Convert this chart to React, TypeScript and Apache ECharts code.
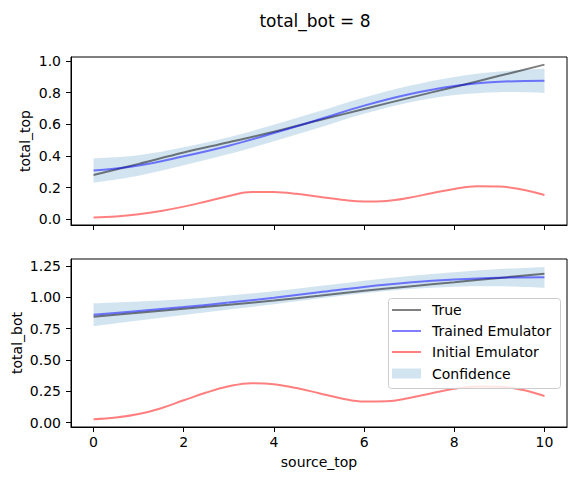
import React, { useEffect, useRef } from "react";
import * as echarts from "echarts";

// ---- data ----
const xCoarse = [0, 1, 2, 3, 4, 5, 6, 7, 8, 9, 10];
const xFine = [0, 0.5, 1, 1.5, 2, 2.5, 3, 3.5, 4, 4.5, 5, 5.5, 6, 6.5, 7, 7.5, 8, 8.5, 9, 9.5, 10];

const topTrue = [0.28, 0.35, 0.422, 0.487, 0.553, 0.625, 0.697, 0.767, 0.836, 0.906, 0.977];
const topTrained = [0.308, 0.34, 0.398, 0.465, 0.545, 0.63, 0.718, 0.79, 0.842, 0.868, 0.875];
const topUpper = [0.385, 0.405, 0.455, 0.518, 0.597, 0.682, 0.77, 0.843, 0.899, 0.933, 0.952];
const topLower = [0.231, 0.275, 0.341, 0.412, 0.493, 0.578, 0.666, 0.737, 0.785, 0.803, 0.798];
const topInitial = [0.012, 0.018, 0.032, 0.053, 0.08, 0.113, 0.147, 0.173, 0.172, 0.161, 0.142, 0.124, 0.112, 0.116, 0.136, 0.165, 0.192, 0.208, 0.207, 0.188, 0.154];

const botTrue = [0.845, 0.877, 0.909, 0.941, 0.975, 1.012, 1.052, 1.087, 1.12, 1.155, 1.189];
const botTrained = [0.861, 0.891, 0.922, 0.958, 0.997, 1.04, 1.083, 1.118, 1.143, 1.157, 1.16];
const botUpper = [0.951, 0.966, 0.985, 1.014, 1.049, 1.09, 1.133, 1.17, 1.201, 1.226, 1.243];
const botLower = [0.771, 0.816, 0.859, 0.902, 0.945, 0.99, 1.033, 1.066, 1.085, 1.088, 1.077];
const botInitial = [0.026, 0.04, 0.068, 0.115, 0.178, 0.24, 0.29, 0.315, 0.307, 0.276, 0.235, 0.193, 0.168, 0.17, 0.197, 0.235, 0.27, 0.289, 0.287, 0.262, 0.213];

const xTicks = [0, 2, 4, 6, 8, 10];
const topYTicks = [0, 0.2, 0.4, 0.6, 0.8, 1.0];
const botYTicks = [0, 0.25, 0.5, 0.75, 1.0, 1.25];

const legendNames = ["True", "Trained Emulator", "Initial Emulator", "Confidence"];

const FONT = "DejaVu Sans";
const C_TRUE = "rgba(0,0,0,0.5)";
const C_TRAINED = "rgba(0,0,255,0.5)";
const C_INITIAL = "rgba(255,0,0,0.5)";
const C_BAND = "rgba(31,119,180,0.2)";

const pairs = (xs: number[], ys: number[]) => xs.map((x, i) => [x, ys[i]]);

// cubic (Catmull-Rom style) segments through pixel points, without the initial move
function curveSegments(pts: number[][]): string {
  let d = "";
  const n = pts.length;
  for (let i = 0; i < n - 1; i++) {
    const p0 = pts[i - 1] || pts[i];
    const p1 = pts[i];
    const p2 = pts[i + 1];
    const p3 = pts[i + 2] || pts[i + 1];
    const c1x = p1[0] + (p2[0] - p0[0]) / 6;
    const c1y = p1[1] + (p2[1] - p0[1]) / 6;
    const c2x = p2[0] - (p3[0] - p1[0]) / 6;
    const c2y = p2[1] - (p3[1] - p1[1]) / 6;
    d += ` C${c1x},${c1y} ${c2x},${c2y} ${p2[0]},${p2[1]}`;
  }
  return d;
}

export default function App() {
  const ref = useRef<HTMLDivElement>(null);
  useEffect(() => {
    if (!ref.current) return;
    const chart = echarts.init(ref.current, undefined, { renderer: "svg" });

    const xAxisBase = (gridIndex: number, showLabels: boolean) => ({
      type: "value",
      gridIndex,
      min: -0.5,
      max: 10.5,
      splitLine: { show: false },
      axisLine: { show: true, onZero: false, lineStyle: { color: "#000", width: 1 } },
      axisTick: { show: true, length: 5, customValues: xTicks, lineStyle: { color: "#000", width: 1 } },
      axisLabel: {
        show: showLabels,
        customValues: xTicks,
        margin: 8,
        fontFamily: FONT,
        fontSize: 14,
        color: "#000",
        formatter: (v: number) => String(v),
      },
    });
    const yAxisBase = (gridIndex: number, min: number, max: number, ticks: number[], dec: number) => ({
      type: "value",
      gridIndex,
      min,
      max,
      splitLine: { show: false },
      axisLine: { show: true, onZero: false, lineStyle: { color: "#000", width: 1 } },
      axisTick: { show: true, length: 5, customValues: ticks, lineStyle: { color: "#000", width: 1 } },
      axisLabel: {
        customValues: ticks,
        margin: 10,
        fontFamily: FONT,
        fontSize: 14,
        color: "#000",
        formatter: (v: number) => v.toFixed(dec),
      },
    });

    // confidence band drawn as one filled region through the axis scales
    const bandSeries = (idx: number, lower: number[], upper: number[]) => ({
      type: "custom",
      name: "Confidence",
      xAxisIndex: idx,
      yAxisIndex: idx,
      data: xCoarse.map((x, i) => [x, lower[i], upper[i]]),
      encode: { x: 0, y: [1, 2] },
      z: 1,
      silent: true,
      renderItem: (params: any, api: any) => {
        if (params.dataIndex !== 0) return null;
        const up = xCoarse.map((x, i) => api.coord([x, upper[i]]));
        const lo = xCoarse.map((x, i) => api.coord([x, lower[i]])).reverse();
        const d =
          `M${up[0][0]},${up[0][1]}` +
          curveSegments(up) +
          ` L${lo[0][0]},${lo[0][1]}` +
          curveSegments(lo) +
          " Z";
        return { type: "path", shape: { pathData: d }, style: { fill: C_BAND } };
      },
    });
    const lineSeries = (idx: number, name: string, xs: number[], ys: number[], color: string) => ({
      type: "line",
      name,
      xAxisIndex: idx,
      yAxisIndex: idx,
      data: pairs(xs, ys),
      smooth: 0.4,
      symbol: "none",
      lineStyle: { color, width: 2 },
      itemStyle: { color },
      z: 3,
    });

    const legendX = 388.5;
    const legendY = 298.5;
    const rowYs = [310, 331, 352, 373.5];
    const lineColors = ["rgb(128,128,128)", "rgb(128,128,255)", "rgb(255,128,128)"];
    const legendEls: any[] = [
      {
        type: "rect",
        z: 100,
        shape: { x: legendX, y: legendY, width: 172, height: 90, r: 3 },
        style: { fill: "rgba(255,255,255,0.8)", stroke: "#cccccc", lineWidth: 1 },
      },
    ];
    legendNames.forEach((n, i) => {
      if (i < 3) {
        legendEls.push({
          type: "line",
          z: 101,
          shape: { x1: 392, y1: rowYs[i], x2: 421, y2: rowYs[i] },
          style: { stroke: lineColors[i], lineWidth: 2 },
        });
      } else {
        legendEls.push({
          type: "rect",
          z: 101,
          shape: { x: 392, y: rowYs[i] - 5, width: 29, height: 10 },
          style: { fill: C_BAND },
        });
      }
      legendEls.push({
        type: "text",
        z: 101,
        x: 432,
        y: rowYs[i],
        style: { text: n, fontFamily: FONT, fontSize: 14, fill: "#000", verticalAlign: "middle", align: "left" },
      });
    });

    chart.setOption({
      animation: false,
      backgroundColor: "#fff",
      title: {
        text: "total_bot = 8",
        left: 310,
        top: 7,
        textAlign: "center",
        textStyle: { fontFamily: FONT, fontSize: 17, fontWeight: "normal", color: "#000" },
      },
      grid: [
        { left: 71, top: 57, width: 496, height: 168, show: true, borderColor: "#000", borderWidth: 1, backgroundColor: "transparent" },
        { left: 71, top: 259, width: 496, height: 168, show: true, borderColor: "#000", borderWidth: 1, backgroundColor: "transparent" },
      ],
      xAxis: [xAxisBase(0, false), xAxisBase(1, true)],
      yAxis: [
        yAxisBase(0, -0.036, 1.025, topYTicks, 1),
        yAxisBase(1, -0.035, 1.306, botYTicks, 2),
      ],
      series: [
        bandSeries(0, topLower, topUpper),
        lineSeries(0, "True", xCoarse, topTrue, C_TRUE),
        lineSeries(0, "Trained Emulator", xCoarse, topTrained, C_TRAINED),
        lineSeries(0, "Initial Emulator", xFine, topInitial, C_INITIAL),
        bandSeries(1, botLower, botUpper),
        lineSeries(1, "True", xCoarse, botTrue, C_TRUE),
        lineSeries(1, "Trained Emulator", xCoarse, botTrained, C_TRAINED),
        lineSeries(1, "Initial Emulator", xFine, botInitial, C_INITIAL),
      ],
      graphic: [
        {
          type: "text",
          x: 25,
          y: 141,
          rotation: Math.PI / 2,
          style: { text: "total_top", fontFamily: FONT, fontSize: 14, fill: "#000", align: "center", verticalAlign: "middle" },
        },
        {
          type: "text",
          x: 17,
          y: 343,
          rotation: Math.PI / 2,
          style: { text: "total_bot", fontFamily: FONT, fontSize: 14, fill: "#000", align: "center", verticalAlign: "middle" },
        },
        {
          type: "text",
          x: 319,
          y: 462,
          style: { text: "source_top", fontFamily: FONT, fontSize: 14, fill: "#000", align: "center", verticalAlign: "middle" },
        },
        ...legendEls,
      ],
    });
    return () => chart.dispose();
  }, []);
  return (
    <div
      ref={ref}
      style={{ position: "fixed", left: 0, top: 0, width: 576, height: 480, background: "#fff" }}
    />
  );
}
